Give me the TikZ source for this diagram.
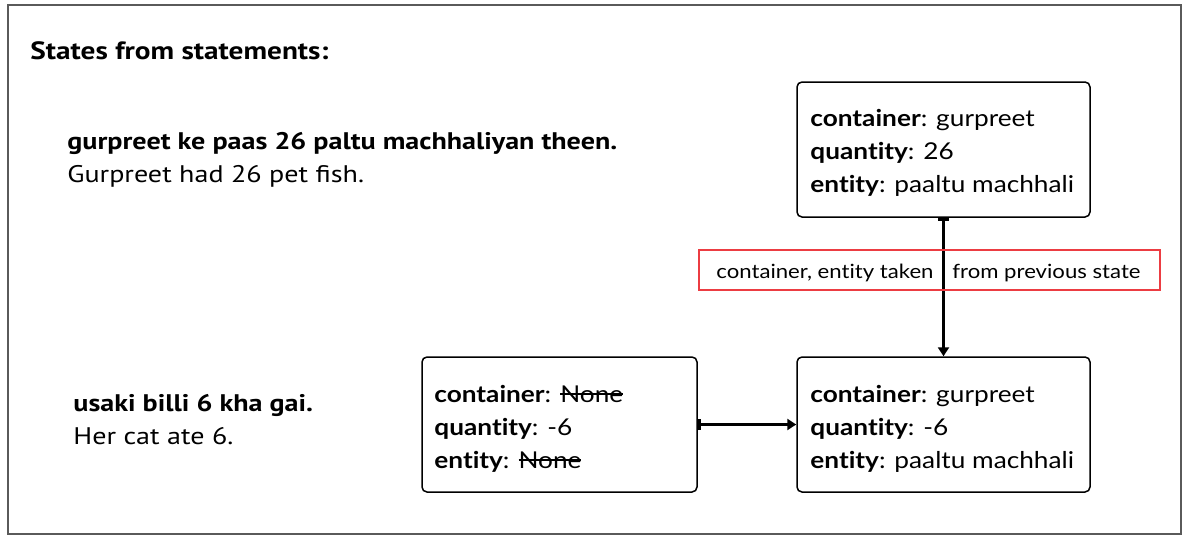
\documentclass[tikz,border=0pt]{standalone}
\usepackage{fontspec}
\setmainfont[FakeStretch=1.13, Ligatures=NoCommon]{Lato}
\newfontfamily\leftfont[FakeStretch=1.17]{PT Sans}
\usetikzlibrary{arrows.meta}
\definecolor{redline}{RGB}{236,60,66}
\definecolor{framegray}{RGB}{90,90,90}
\newsavebox{\strkbox}
\newcommand\mystrike[1]{\sbox{\strkbox}{#1}\rlap{\rule[0.3em]{\wd\strkbox}{0.07em}}\usebox{\strkbox}}
\tikzset{
  statebox/.style={draw=black, line width=0.75pt, rounded corners=2.5pt, rectangle, inner sep=0pt},
  boxtext/.style={anchor=base west, inner sep=0pt, font=\fontsize{11.6pt}{13pt}\selectfont},
  stmt/.style={anchor=base west, inner sep=0pt, font=\leftfont\fontsize{12pt}{13pt}\selectfont},
  stmtb/.style={stmt, font=\leftfont\bfseries\fontsize{12pt}{13pt}\selectfont},
  conn/.style={line width=1.5pt, {Bar[width=5.5pt,line width=1.5pt]}-{Triangle[width=5.5pt,length=4.5pt]}},
  notebox/.style={draw=redline, line width=1pt, rectangle, inner sep=0pt},
  notetext/.style={anchor=base west, inner sep=0pt, font=\fontsize{9.8pt}{11pt}\selectfont}
}
\begin{document}
\begin{tikzpicture}[x=0.5pt,y=-0.5pt]
\useasboundingbox (0,0) rectangle (1194,552);
\fill[white] (0,0) rectangle (1194,552);
\draw[framegray, line width=0.6pt] (8,5) rectangle (1181,534);
% title and statements
\node[stmt, font=\leftfont\bfseries\fontsize{12.5pt}{14pt}\selectfont] (title) at (30,59) {States from statements:};
\node[stmtb] (s1h) at (67,149) {gurpreet ke paas 26 paltu machhaliyan theen.};
\node[stmt] (s1e) at (67,182) {Gurpreet had 26 pet fish.};
\node[stmtb] (s2h) at (73,411) {usaki billi 6 kha gai.};
\node[stmt] (s2e) at (73,444) {Her cat ate 6.};
% boxes
\node[statebox, minimum width=146.5pt, minimum height=67.5pt] (b1) at (943.5,149.5) {};
\node[statebox, minimum width=146.5pt, minimum height=67.5pt] (b2) at (943.5,424.5) {};
\node[statebox, minimum width=137.5pt, minimum height=67.5pt] (b3) at (559.5,424.5) {};
% box texts
\node[boxtext] (b1a) at (810,126) {\textbf{container}: gurpreet};
\node[boxtext] (b1b) at (810,159) {\textbf{quantity}: 26};
\node[boxtext] (b1c) at (810,192) {\textbf{entity}: paaltu machhali};
\node[boxtext] (b2a) at (810,402) {\textbf{container}: gurpreet};
\node[boxtext] (b2b) at (810,435) {\textbf{quantity}: -6};
\node[boxtext] (b2c) at (810,468) {\textbf{entity}: paaltu machhali};
\node[boxtext] (b3a) at (434,402) {\textbf{container}: \mystrike{None}};
\node[boxtext] (b3b) at (434,435) {\textbf{quantity}: -6};
\node[boxtext] (b3c) at (434,468) {\textbf{entity}: \mystrike{None}};
% connectors
\draw[conn] (b1.south) -- (b2.north);
\draw[conn] (b3.east) -- (b2.west);
% note
\node[notebox, minimum width=230.5pt, minimum height=20pt] (note) at (929.5,270) {};
\node[notetext] (n1) at (716,278) {container, entity taken};
\node[notetext] (n2) at (952,278) {from previous state};
\end{tikzpicture}
\end{document}
